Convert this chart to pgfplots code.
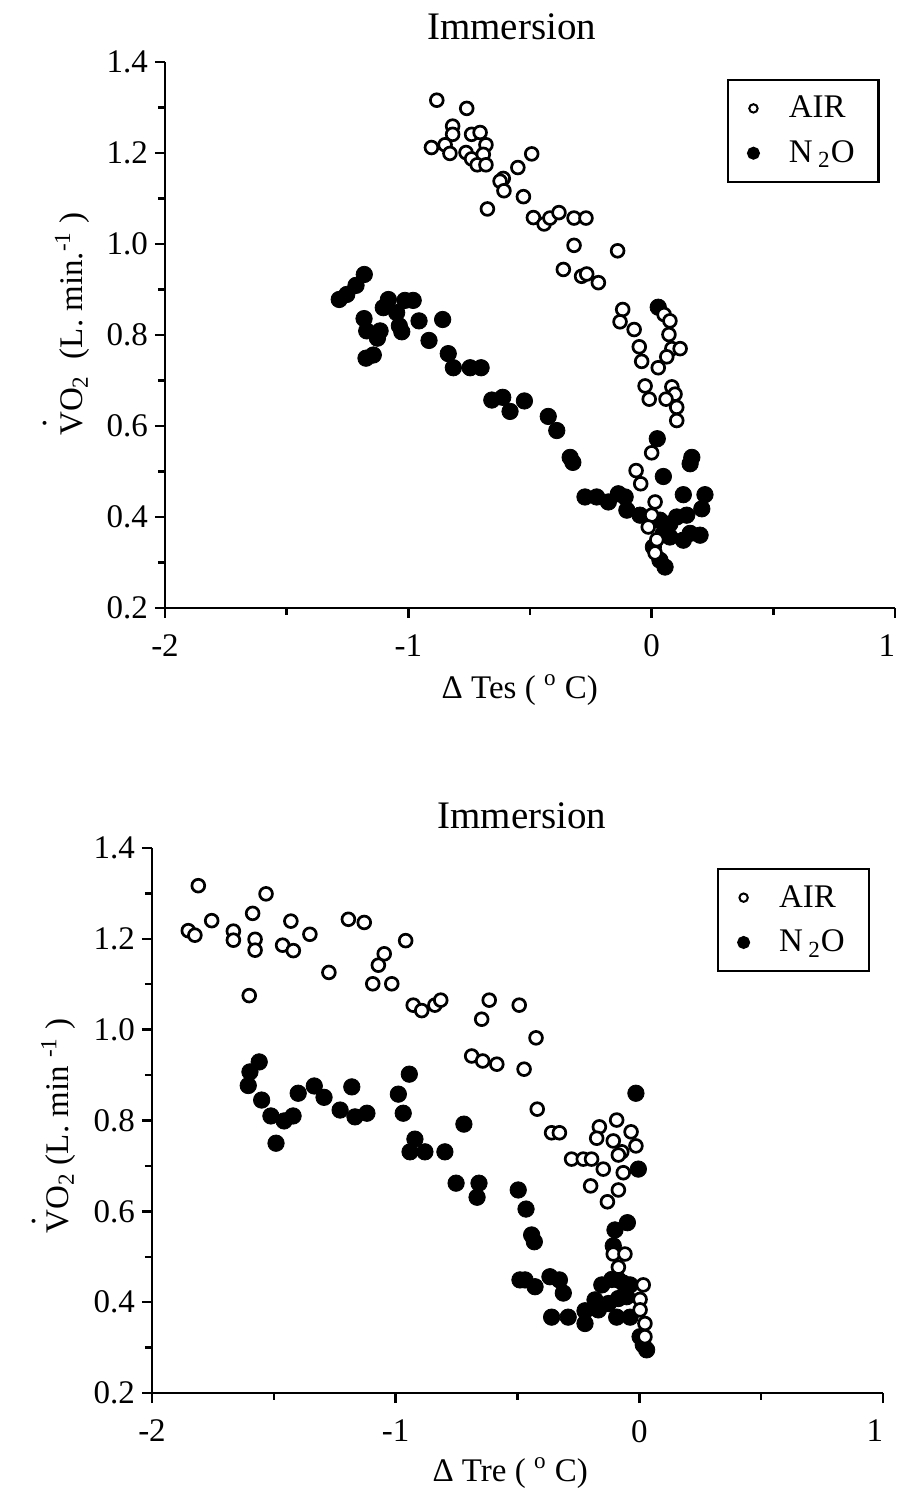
\documentclass[border=0pt]{standalone}
\usepackage{pgfplots}
\pgfplotsset{compat=1.18}
\usepackage{fontspec}
\setmainfont{Liberation Serif}
\newcommand{\Vdot}[1]{\ooalign{V\cr\hidewidth\raisebox{#1}{.}\hidewidth\cr}}
\pgfplotsset{
  myax/.style={
    scale only axis, width=365pt, height=273pt,
    xmin=-2, xmax=1, ymin=0.2, ymax=1.4,
    axis lines=left, axis line style={-, line width=1.25pt},
    xtick={-2,-1,0,1}, xticklabels={{-2},{-1},{0},{\llap{1}\hspace{3pt}}},
    ytick={0.2,0.4,0.6,0.8,1.0,1.2,1.4},
    minor x tick num=1, minor y tick num=1,
    tick align=outside, major tick length=5pt, minor tick length=3.5pt,
    every tick/.style={black, line width=1.2pt},
    tick label style={font=\fontsize{16.5}{19}\selectfont},
    /pgf/number format/assume math mode=true,
    yticklabel style={/pgf/number format/.cd, fixed, fixed zerofill, precision=1},
    xticklabel style={yshift=-5pt},
    label style={font=\fontsize{16.5}{19}\selectfont},
    title style={font=\fontsize{19.5}{22}\selectfont, anchor=center},
    clip=false,
    legend cell align=left,
    legend style={draw=black, line width=1.1pt, font=\fontsize{16.5}{19}\selectfont,
      inner xsep=10pt, inner ysep=6pt, row sep=6pt, anchor=north east,
      /tikz/every even column/.append style={column sep=6pt},
      /tikz/every odd column/.append style={column sep=13pt}},
  },
  airmk/.style={only marks, mark=*, mark size=3.2pt, mark options={fill=white, draw=black, line width=1.35pt}},
  n2omk/.style={only marks, mark=*, mark size=4.1pt, mark options={fill=black, draw=black}},
}
\begin{document}
\begin{tikzpicture}
\useasboundingbox (0,0) rectangle (449pt,745.5pt);
% ---------------- top ----------------
\begin{axis}[myax, at={(82.5pt,441.5pt)}, anchor=south west,
  title={Immersion}, title style={at={(axis description cs:0.475,1.042)}},
  xlabel={Δ Tes ( \textsuperscript{o} C)}, xlabel style={at={(axis description cs:0.486,-0.150)}, anchor=center},
  ylabel={\Vdot{1.1em}O\textsubscript{2}\ \ (L. min.\textsuperscript{-1} )}, ylabel style={at={(axis description cs:-0.127,0.52)}, anchor=center},
  legend style={at={(axis description cs:0.979,0.969)}}]
\addlegendimage{only marks, mark=*, mark size=2.1pt, mark options={fill=white, draw=black, line width=1pt}}
\addlegendentry{AIR}
\addlegendimage{only marks, mark=*, mark size=2.7pt, mark options={fill=black}}
\addlegendentry{N\,\textsubscript{2}O}
\addplot[n2omk, forget plot] coordinates {
(-1.181,0.933) (-1.215,0.909) (-1.253,0.889) (-1.284,0.878) (-1.082,0.878) (-1.014,0.876) (-0.980,0.876)
(-1.103,0.860) (-1.048,0.849) (-1.182,0.836) (-0.956,0.831) (-0.859,0.834) (-1.037,0.820) (-1.171,0.809)
(-1.116,0.809) (-1.127,0.793) (-1.027,0.807) (-0.915,0.788) (-0.836,0.759) (-1.144,0.756) (-1.174,0.749)
(-0.815,0.728) (-0.746,0.728) (-0.701,0.728) (-0.657,0.657) (-0.612,0.663) (-0.582,0.632) (-0.523,0.655)
(-0.425,0.621) (-0.390,0.590) (-0.335,0.531) (-0.324,0.520) (0.027,0.861) (0.023,0.572) (0.165,0.531)
(0.158,0.517) (0.048,0.489) (-0.274,0.444) (-0.226,0.444) (-0.178,0.433) (-0.137,0.451) (-0.109,0.444)
(-0.102,0.415) (0.130,0.449) (0.219,0.449) (0.206,0.418) (-0.048,0.404) (0.034,0.393) (0.075,0.385)
(0.048,0.364) (0.103,0.400) (0.144,0.404) (0.075,0.356) (0.130,0.349) (0.158,0.364) (0.199,0.360)
(0.007,0.334) (0.034,0.305) (0.055,0.290)
};
\addplot[airmk, forget plot] coordinates {
(-0.883,1.316) (-0.760,1.298) (-0.818,1.259) (-0.818,1.241) (-0.740,1.241) (-0.705,1.245) (-0.905,1.212)
(-0.849,1.218) (-0.829,1.199) (-0.763,1.201) (-0.681,1.218) (-0.740,1.187) (-0.692,1.197) (-0.717,1.174)
(-0.681,1.174) (-0.493,1.198) (-0.550,1.168) (-0.610,1.144) (-0.623,1.138) (-0.607,1.117) (-0.527,1.104)
(-0.675,1.077) (-0.486,1.058) (-0.442,1.044) (-0.418,1.057) (-0.381,1.069) (-0.319,1.057) (-0.270,1.057)
(-0.319,0.997) (-0.140,0.985) (-0.363,0.944) (-0.288,0.929) (-0.267,0.934) (-0.219,0.915) (-0.119,0.856)
(-0.130,0.829) (-0.072,0.812) (0.051,0.845) (0.075,0.831) (0.071,0.801) (-0.051,0.774) (-0.041,0.742)
(0.083,0.770) (0.117,0.770) (0.062,0.752) (0.027,0.728) (-0.027,0.688) (-0.010,0.659) (0.083,0.686)
(0.096,0.670) (0.059,0.659) (0.103,0.641) (0.103,0.612) (0.000,0.541) (-0.064,0.502) (-0.045,0.473)
(0.014,0.433) (0.000,0.404) (-0.014,0.378) (0.021,0.350) (0.014,0.321)
};
\end{axis}
% ---------------- bottom ----------------
\begin{axis}[myax, width=365.5pt, height=272.5pt, at={(76pt,49pt)}, anchor=south west,
  title={Immersion}, title style={at={(axis description cs:0.506,1.037)}},
  xlabel={Δ Tre ( \textsuperscript{o} C)}, xlabel style={at={(axis description cs:0.490,-0.147)}, anchor=center},
  ylabel={\Vdot{1.0em}O\textsubscript{2} (L. min \textsuperscript{-1} )}, ylabel style={at={(axis description cs:-0.128,0.49)}, anchor=center},
  legend style={at={(axis description cs:0.982,0.963)}}]
\addlegendimage{only marks, mark=*, mark size=2.1pt, mark options={fill=white, draw=black, line width=1pt}}
\addlegendentry{AIR}
\addlegendimage{only marks, mark=*, mark size=2.7pt, mark options={fill=black}}
\addlegendentry{N\,\textsubscript{2}O}
\addplot[n2omk, forget plot] coordinates {
(-1.598,0.907) (-1.560,0.929) (-1.605,0.877) (-1.550,0.845) (-1.512,0.810) (-1.458,0.799) (-1.421,0.810)
(-1.491,0.750) (-1.400,0.860) (-1.334,0.876) (-1.294,0.851) (-1.228,0.823) (-1.180,0.874) (-1.167,0.808)
(-1.118,0.816) (-0.989,0.858) (-0.944,0.902) (-0.969,0.816) (-0.921,0.759) (-0.941,0.731) (-0.880,0.731)
(-0.798,0.731) (-0.720,0.792) (-0.752,0.662) (-0.658,0.662) (-0.666,0.631) (-0.497,0.647) (-0.465,0.605)
(-0.442,0.548) (-0.431,0.533) (-0.490,0.449) (-0.469,0.449) (-0.428,0.434) (-0.367,0.456) (-0.328,0.449)
(-0.312,0.420) (-0.360,0.367) (-0.292,0.367) (-0.223,0.381) (-0.223,0.353) (-0.182,0.405) (-0.154,0.438)
(-0.113,0.450) (-0.086,0.449) (-0.066,0.442) (-0.038,0.438) (-0.127,0.397) (-0.086,0.408) (-0.052,0.412)
(-0.168,0.383) (-0.093,0.367) (-0.038,0.367) (0.003,0.324) (0.016,0.306) (0.030,0.295) (-0.100,0.559)
(-0.049,0.575) (-0.107,0.524) (-0.004,0.693) (-0.014,0.860)
};
\addplot[airmk, forget plot] coordinates {
(-1.810,1.317) (-1.532,1.299) (-1.755,1.240) (-1.851,1.218) (-1.824,1.208) (-1.666,1.217) (-1.666,1.197)
(-1.587,1.256) (-1.577,1.199) (-1.577,1.175) (-1.430,1.239) (-1.464,1.186) (-1.420,1.174) (-1.352,1.210)
(-1.194,1.243) (-1.129,1.236) (-0.959,1.196) (-1.274,1.126) (-1.047,1.167) (-1.071,1.142) (-1.094,1.101)
(-1.016,1.101) (-1.601,1.075) (-0.928,1.054) (-0.893,1.042) (-0.839,1.054) (-0.815,1.065) (-0.616,1.065)
(-0.493,1.054) (-0.647,1.023) (-0.424,0.982) (-0.688,0.942) (-0.643,0.931) (-0.585,0.924) (-0.473,0.913)
(-0.419,0.825) (-0.360,0.773) (-0.328,0.773) (-0.164,0.786) (-0.175,0.761) (-0.093,0.801) (-0.107,0.755)
(-0.034,0.775) (-0.014,0.744) (-0.072,0.731) (-0.086,0.724) (-0.278,0.715) (-0.230,0.715) (-0.196,0.715)
(-0.148,0.693) (-0.066,0.685) (-0.200,0.656) (-0.086,0.647) (-0.131,0.621) (-0.107,0.506) (-0.059,0.506)
(-0.086,0.477) (0.016,0.438) (0.003,0.406) (0.003,0.383) (0.023,0.353) (0.023,0.324)
};
\end{axis}
\end{tikzpicture}
\end{document}
